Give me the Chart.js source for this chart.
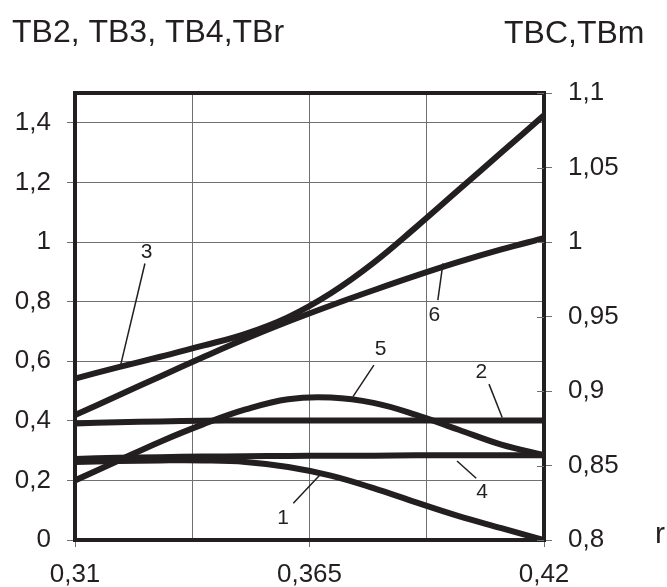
<!DOCTYPE html>
<html>
<head>
<meta charset="utf-8">
<script src="https://cdn.jsdelivr.net/npm/chart.js@4.4.1/dist/chart.umd.min.js"></script>
<style>
  html, body { margin: 0; padding: 0; background: #ffffff; }
  #wrap { width: 667px; height: 587px; position: relative; }
</style>
</head>
<body>
<div id="wrap"><canvas id="c" width="667" height="587"></canvas></div>
<script>
// ---- data ----
const rValues = [0.31, 0.32, 0.33, 0.34, 0.35, 0.36, 0.37, 0.38, 0.39, 0.40, 0.41, 0.42];
// left axis (TB2, TB3, TB4, TBr)
const curve1 = [0.262, 0.265, 0.267, 0.267, 0.262, 0.245, 0.216, 0.174, 0.126, 0.080, 0.040, 0.0];
const curve2 = [0.391, 0.395, 0.398, 0.400, 0.401, 0.401, 0.401, 0.401, 0.401, 0.401, 0.401, 0.401];
const curve3 = [0.542, 0.579, 0.615, 0.652, 0.692, 0.748, 0.828, 0.930, 1.050, 1.175, 1.300, 1.425];
const curve4 = [0.272, 0.276, 0.278, 0.280, 0.281, 0.282, 0.283, 0.283, 0.284, 0.284, 0.284, 0.284];
// right axis (TBC, TBm)
const curve5 = [0.840, 0.853, 0.866, 0.8776, 0.8876, 0.8945, 0.8956, 0.892, 0.884, 0.874, 0.864, 0.857];
const curve6 = [0.8838, 0.8968, 0.9098, 0.9226, 0.9350, 0.9466, 0.9574, 0.9676, 0.9774, 0.9866, 0.9950, 1.0026];

const leftTicks = [0, 0.2, 0.4, 0.6, 0.8, 1.0, 1.2, 1.4];
const rightTicks = [0.8, 0.85, 0.9, 0.95, 1.0, 1.05, 1.1];
const xGridValues = [0.31, 0.3375, 0.365, 0.3925, 0.42];
const xLabelValues = [0.31, 0.365, 0.42];

const leftTitle = 'TB2, TB3, TB4,TBr';
const rightTitle = 'TBC,TBm';
const xTitle = 'r';

// curve labels with leader lines (data coordinates, left axis units)
const labelText = ['1', '2', '3', '4', '5', '6'];
const labelR    = [0.3588, 0.4053, 0.3268, 0.4055, 0.3817, 0.3943];
const labelV    = [0.073, 0.564, 0.967, 0.160, 0.640, 0.755];
const leadR1    = [0.3612, 0.4071, 0.3264, 0.4041, 0.3801, 0.3951];
const leadV1    = [0.123, 0.523, 0.928, 0.207, 0.587, 0.805];
const leadR2    = [0.3676, 0.4102, 0.3207, 0.3996, 0.3752, 0.3963];
const leadV2    = [0.221, 0.411, 0.587, 0.265, 0.481, 0.928];

// ---- rendering ----
const INK = '#231f20';
const GRID = '#707070';
const FONT = "'Liberation Sans', Arial, sans-serif";
const fmt = v => String(Math.round(v * 1000) / 1000).replace('.', ',');
const pts = arr => rValues.map((r, i) => ({ x: r, y: arr[i] }));

function ds(arr, axis) {
  return {
    data: pts(arr), yAxisID: axis,
    borderColor: INK, borderWidth: 6, pointRadius: 0,
    tension: 0.4, fill: false
  };
}

const decor = {
  id: 'decor',
  afterDatasetsDraw(chart) {
    const ctx = chart.ctx;
    const ca = chart.chartArea;
    const xs = chart.scales.x, ys = chart.scales.y, y1 = chart.scales.y1;
    ctx.save();
    // frame
    ctx.strokeStyle = INK;
    ctx.lineWidth = 4;
    ctx.strokeRect(ca.left, ca.top, ca.right - ca.left, ca.bottom - ca.top);
    // inner part of right ticks
    ctx.strokeStyle = GRID;
    ctx.lineWidth = 1;
    rightTicks.forEach(v => {
      const py = Math.round(y1.getPixelForValue(v)) + 0.5;
      ctx.beginPath();
      ctx.moveTo(ca.right - 7, py);
      ctx.lineTo(ca.right, py);
      ctx.stroke();
    });
    // leader lines
    ctx.strokeStyle = INK;
    ctx.lineWidth = 1.5;
    labelText.forEach((t, i) => {
      ctx.beginPath();
      ctx.moveTo(xs.getPixelForValue(leadR1[i]), ys.getPixelForValue(leadV1[i]));
      ctx.lineTo(xs.getPixelForValue(leadR2[i]), ys.getPixelForValue(leadV2[i]));
      ctx.stroke();
    });
    // curve labels
    ctx.fillStyle = INK;
    ctx.font = '21px ' + FONT;
    ctx.textAlign = 'center';
    ctx.textBaseline = 'middle';
    labelText.forEach((t, i) => {
      ctx.fillText(t, xs.getPixelForValue(labelR[i]), ys.getPixelForValue(labelV[i]));
    });
    // axis titles
    ctx.font = '32px ' + FONT;
    ctx.textBaseline = 'alphabetic';
    ctx.textAlign = 'left';
    ctx.fillText(leftTitle, 12, 42);
    ctx.fillText(rightTitle, 504, 43);
    ctx.font = '30px ' + FONT;
    ctx.fillText(xTitle, 655, 543);
    ctx.restore();
  }
};

new Chart(document.getElementById('c'), {
  type: 'line',
  data: {
    datasets: [
      ds(curve1, 'y'), ds(curve2, 'y'), ds(curve3, 'y'), ds(curve4, 'y'),
      ds(curve5, 'y1'), ds(curve6, 'y1')
    ]
  },
  options: {
    responsive: false,
    animation: false,
    devicePixelRatio: 1,
    layout: { padding: { top: 93, left: 0, right: 0, bottom: 0 } },
    plugins: { legend: { display: false }, tooltip: { enabled: false }, title: { display: false } },
    scales: {
      x: {
        type: 'linear', min: 0.31, max: 0.42,
        afterBuildTicks: s => { s.ticks = xGridValues.map(v => ({ value: v })); },
        afterFit: s => { s.height = 47; },
        border: { display: false },
        grid: {
          color: GRID, lineWidth: 1, tickLength: 7,
          tickColor: c => (c.tick && xLabelValues.some(v => Math.abs(v - c.tick.value) < 1e-6)) ? GRID : 'rgba(0,0,0,0)'
        },
        ticks: {
          autoSkip: false, maxRotation: 0, padding: 12,
          color: INK, font: { family: FONT, size: 26 },
          callback: v => xLabelValues.some(l => Math.abs(l - v) < 1e-6) ? fmt(v) : ''
        }
      },
      y: {
        type: 'linear', position: 'left', min: 0, max: 1.5,
        afterBuildTicks: s => { s.ticks = leftTicks.map(v => ({ value: v })); },
        afterFit: s => { s.width = 75; },
        border: { display: false },
        grid: { color: GRID, lineWidth: 1, tickLength: 8, tickColor: GRID },
        ticks: { padding: 16, color: INK, font: { family: FONT, size: 26 }, callback: v => fmt(v) }
      },
      y1: {
        type: 'linear', position: 'right', min: 0.8, max: 1.1,
        afterBuildTicks: s => { s.ticks = rightTicks.map(v => ({ value: v })); },
        afterFit: s => { s.width = 123; },
        border: { display: false },
        grid: { drawOnChartArea: false, color: GRID, lineWidth: 1, tickLength: 8, tickColor: GRID },
        ticks: { padding: 16, color: INK, font: { family: FONT, size: 26 }, callback: v => fmt(v) }
      }
    }
  },
  plugins: [decor]
});
</script>
</body>
</html>
